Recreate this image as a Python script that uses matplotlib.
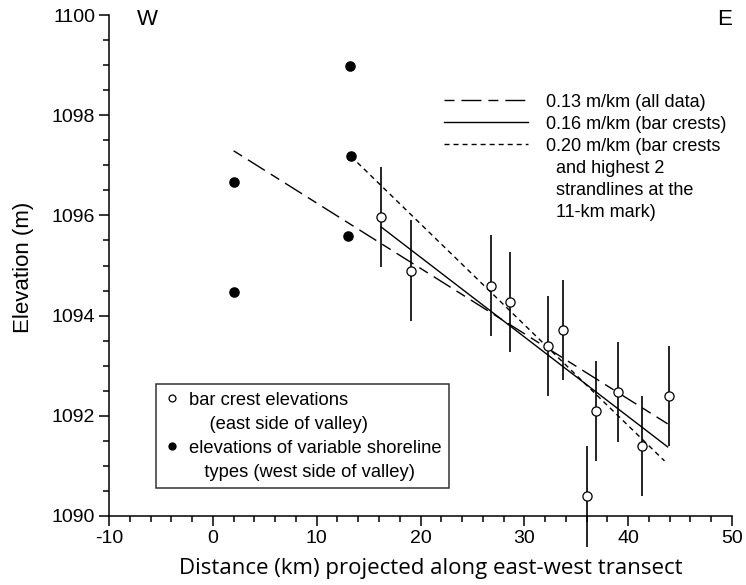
import numpy as np
import matplotlib
matplotlib.use('Agg')
import matplotlib.pyplot as plt
from matplotlib.lines import Line2D
from matplotlib.ticker import MultipleLocator

plt.rcParams['font.family'] = ['Liberation Sans', 'DejaVu Sans']
plt.rcParams['axes.unicode_minus'] = False

# bar crests, east side (open circles, +-1 m error bars)
crest_km = [16.2, 19.1, 26.8, 28.6, 32.3, 33.7, 36.0, 36.9, 39.0, 41.3, 43.9]
crest_elev = [1095.97, 1094.90, 1094.60, 1094.27, 1093.39, 1093.71,
              1090.39, 1092.10, 1092.47, 1091.40, 1092.40]
crest_err = [1.0, 1.0, 1.0, 1.0, 1.0, 1.0, 1.0, 1.0, 1.0, 1.0, 1.0]

# variable shoreline types, west side (filled circles)
west_km = [2.0, 2.0, 13.0, 13.3, 13.2]
west_elev = [1096.67, 1094.48, 1095.59, 1097.18, 1098.98]

# fitted gradient lines (end points)
all_km = [2.0, 43.8]
all_elev = [1097.29, 1091.84]
bar_km = [16.2, 43.8]
bar_elev = [1095.77, 1091.38]
strand_km = [13.3, 43.5]
strand_elev = [1097.18, 1091.10]

fit_labels = ['0.13 m/km (all data)', '0.16 m/km (bar crests)',
              '0.20 m/km (bar crests', '  and highest 2',
              '  strandlines at the', '  11-km mark)']
pt_labels = ['bar crest elevations', '    (east side of valley)',
             'elevations of variable shoreline', '   types (west side of valley)']

fig = plt.figure(figsize=(7.46, 5.85), dpi=100)
ax = fig.add_axes([109/746, 1 - 516/585, 623/746, 501/585])

long_dash = (7.2, 5, 14.4, 5)
short_dash = (3.6, 2.9)

l1, = ax.plot(all_km, all_elev, color='black', lw=1, dashes=long_dash, clip_on=False)
l2, = ax.plot(bar_km, bar_elev, color='black', lw=1, clip_on=False)
l3, = ax.plot(strand_km, strand_elev, color='black', lw=1, dashes=short_dash, clip_on=False)

ax.errorbar(crest_km, crest_elev, yerr=crest_err, fmt='none', ecolor='black',
            elinewidth=1.2, capsize=0, clip_on=False, zorder=3)
p_open, = ax.plot(crest_km, crest_elev, 'o', ms=6.6, mfc='white', mec='black',
                  mew=0.9, ls='none', clip_on=False, zorder=4)
p_fill, = ax.plot(west_km, west_elev, 'o', ms=6.6, color='black', ls='none',
                  clip_on=False, zorder=4)

ax.set_xlim(-10, 50)
ax.set_ylim(1090, 1100)
ax.xaxis.set_major_locator(MultipleLocator(10))
ax.xaxis.set_minor_locator(MultipleLocator(2))
ax.yaxis.set_major_locator(MultipleLocator(2))
ax.yaxis.set_minor_locator(MultipleLocator(0.5))
ax.tick_params(which='major', direction='out', length=7, width=1.1, labelsize=14,
               pad=3)
ax.tick_params(which='minor', direction='out', length=4, width=1.1)
for s in ['top', 'right']:
    ax.spines[s].set_visible(False)
for s in ['left', 'bottom']:
    ax.spines[s].set_linewidth(1.1)

ax.set_xlabel('Distance (km) projected along east-west transect',
              family='Open Sans', fontsize=16)
ax.xaxis.set_label_coords(0.516, -0.083)
ax.set_ylabel('Elevation (m)', fontsize=16)
ax.yaxis.set_label_coords(-0.12, 0.497)

ax.text(0.062, 1.012, 'W', transform=ax.transAxes, fontsize=16, ha='center', va='top')
ax.text(0.988, 1.012, 'E', transform=ax.transAxes, fontsize=16, ha='center', va='top')

blank = Line2D([], [], ls='none')
leg1 = ax.legend([l1, l2, l3, blank, blank, blank], fit_labels,
                 loc='upper left', bbox_to_anchor=(0.537, 0.843), frameon=False,
                 fontsize=13, handlelength=4.7, handletextpad=1.0,
                 labelspacing=0.28, borderpad=0, borderaxespad=0)
ax.add_artist(leg1)

leg2 = ax.legend([p_open, blank, p_fill, blank], pt_labels,
                 loc='lower left', bbox_to_anchor=(0.0755, 0.056), frameon=True,
                 fontsize=13.2, handlelength=0.9, handletextpad=0.5,
                 labelspacing=0.38, borderpad=0.4, borderaxespad=0,
                 markerscale=0.75, fancybox=False, edgecolor='black')
leg2.get_frame().set_linewidth(1.1)

fig.savefig('out.png', dpi=100)
